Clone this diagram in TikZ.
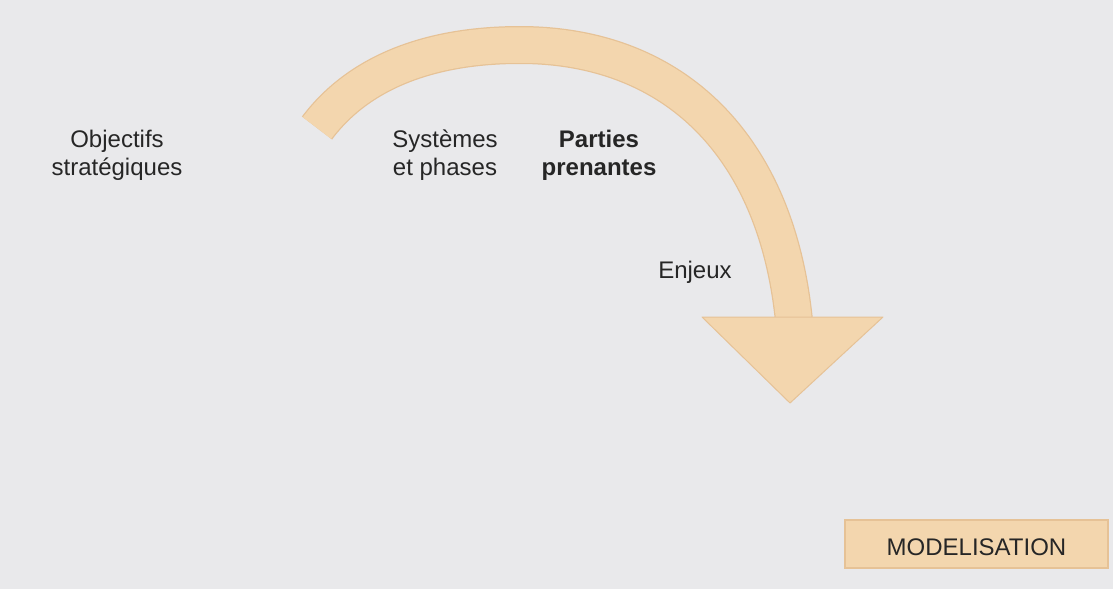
\documentclass[tikz,border=0pt]{standalone}
\usepackage{fontspec}
\setmainfont{Liberation Sans}
\definecolor{bgc}{RGB}{233,233,235}
\definecolor{peach}{RGB}{243,214,174}
\definecolor{peachedge}{RGB}{230,194,150}
\begin{document}
\begin{tikzpicture}[x=1pt,y=-1pt,
  lbl/.style={inner sep=0pt,align=center,anchor=base,font=\fontsize{24}{27.5}\selectfont,text=black!85},
  shaftedge/.style={draw=peachedge,line width=38pt},
  shaftfill/.style={draw=peach,line width=35.5pt},
  headshape/.style={fill=peach,draw=peachedge,line width=1pt,line join=round},
  modbox/.style={fill=peach,draw=peachedge,line width=1.2pt,minimum width=263pt,minimum height=48pt,inner sep=0pt}]
\fill[bgc] (0,0) rectangle (1113,589);
\useasboundingbox (0,0) rectangle (1113,589);
% arrow
\coordinate (tail) at (317,128);
\coordinate (top) at (520,45);
\coordinate (end) at (794,321);
\coordinate (hl) at (702,317);
\coordinate (hr) at (883,317);
\coordinate (tip) at (790,403);
\draw[shaftedge] (tail) .. controls (359,72) and (430,45) .. (top)
  .. controls (670,45) and (776,141) .. (end);
\draw[shaftfill] (tail) .. controls (359,72) and (430,45) .. (top)
  .. controls (670,45) and (776,141) .. (end);
\filldraw[headshape] (hl) -- (hr) -- (tip) -- cycle;
% labels
\node[lbl] (obj) at (117,175) {Objectifs\\stratégiques};
\node[lbl] (sys) at (445,175) {Systèmes\\et phases};
\node[lbl,font=\fontsize{24}{27.5}\selectfont\bfseries] (pp) at (599,175) {Parties\\prenantes};
\node[lbl] (enj) at (695,278) {Enjeux};
\node[modbox] (modb) at (976.5,544) {};
\node[lbl] (mod) at (976.5,555) {MODELISATION};
\end{tikzpicture}
\end{document}
